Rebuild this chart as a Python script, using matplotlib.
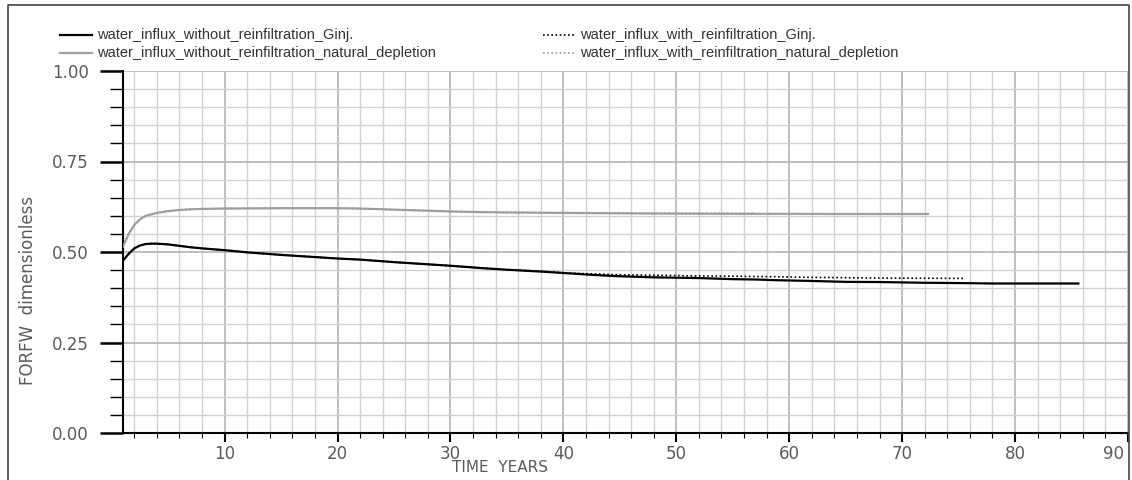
import matplotlib
matplotlib.use("Agg")
import matplotlib.pyplot as plt
from matplotlib.ticker import MultipleLocator, FuncFormatter, FormatStrFormatter
from matplotlib.lines import Line2D

# FORFW vs time, four runs
t_ginj = [1, 1.5, 2, 2.5, 3, 3.5, 4, 5, 6, 7, 8, 10, 12, 15, 18, 20, 22, 25, 28, 30,
          33, 35, 38, 40, 43, 45, 48, 50, 52, 55, 57, 59, 62, 65, 68, 70, 72, 75.6,
          78, 80, 83, 85.6]
forfw_ginj = [0.476, 0.495, 0.510, 0.518, 0.522, 0.523, 0.523, 0.521, 0.517, 0.513,
              0.510, 0.505, 0.499, 0.492, 0.486, 0.482, 0.479, 0.472, 0.466, 0.462,
              0.455, 0.451, 0.446, 0.442, 0.436, 0.433, 0.430, 0.429, 0.428, 0.425,
              0.424, 0.422, 0.420, 0.4175, 0.417, 0.416, 0.415, 0.414, 0.413, 0.413,
              0.413, 0.413]

t_ginj_re = [1, 1.5, 2, 2.5, 3, 3.5, 4, 5, 6, 7, 8, 10, 12, 15, 18, 20, 22, 25, 28, 30,
             33, 35, 38, 40, 43, 45, 48, 50, 52, 55, 58, 62, 65, 68, 72, 75.6]
forfw_ginj_re = [0.476, 0.495, 0.510, 0.518, 0.522, 0.523, 0.523, 0.521, 0.517, 0.513,
                 0.510, 0.505, 0.499, 0.492, 0.486, 0.482, 0.479, 0.472, 0.466, 0.462,
                 0.455, 0.451, 0.447, 0.4425, 0.439, 0.437, 0.436, 0.435, 0.434, 0.433,
                 0.432, 0.430, 0.429, 0.428, 0.4275, 0.427]

t_nat = [1, 1.5, 2, 2.5, 3, 4, 5, 6, 7, 8, 10, 15, 20, 22, 25, 28, 30, 33, 36, 40,
         45, 50, 55, 60, 65, 72.3]
forfw_nat = [0.515, 0.550, 0.575, 0.590, 0.600, 0.608, 0.613, 0.616, 0.618, 0.619,
             0.620, 0.621, 0.621, 0.620, 0.617, 0.614, 0.612, 0.610, 0.609, 0.608,
             0.607, 0.606, 0.6055, 0.6055, 0.605, 0.605]

t_nat_re = [1, 1.5, 2, 2.5, 3, 4, 5, 6, 7, 8, 10, 15, 20, 22, 25, 28, 30, 33, 36, 40,
            42, 45, 50, 55, 57]
forfw_nat_re = [0.515, 0.550, 0.575, 0.590, 0.600, 0.608, 0.613, 0.616, 0.618, 0.619,
                0.620, 0.621, 0.621, 0.620, 0.617, 0.614, 0.612, 0.610, 0.609, 0.608,
                0.6075, 0.607, 0.607, 0.607, 0.607]

labels = ["water_influx_without_reinfiltration_Ginj.",
          "water_influx_without_reinfiltration_natural_depletion",
          "water_influx_with_reinfiltration_Ginj.",
          "water_influx_with_reinfiltration_natural_depletion"]

W, H = 1132, 480
TXT = "#5a5a5a"
fig = plt.figure(figsize=(W / 100, H / 100), dpi=100)
ax = fig.add_axes([123 / W, 1 - 433 / H, (1128 - 123) / W, (433 - 71) / H])

styles = [dict(color="black", lw=1.6, zorder=4),
          dict(color="#a0a0a0", lw=1.6, zorder=3),
          dict(color="black", lw=1.2, ls=(0, (1, 1.5)), zorder=5),
          dict(color="#9a9a9a", lw=1.2, ls=(0, (1, 1.5)), zorder=4)]

ax.plot(t_ginj, forfw_ginj, **styles[0])
ax.plot(t_nat, forfw_nat, **styles[1])
ax.plot(t_ginj_re, forfw_ginj_re, **styles[2])
ax.plot(t_nat_re, forfw_nat_re, **styles[3])

XMAX = 90
ax.set_xlim(1, XMAX)
ax.set_ylim(0, 1)
ax.xaxis.set_major_locator(MultipleLocator(10))
ax.xaxis.set_minor_locator(MultipleLocator(2))
ax.yaxis.set_major_locator(MultipleLocator(0.25))
ax.yaxis.set_minor_locator(MultipleLocator(0.05))
ax.yaxis.set_major_formatter(FormatStrFormatter("%.2f"))
# last x label is drawn separately so it stays inside the frame
ax.xaxis.set_major_formatter(FuncFormatter(lambda v, p: "" if v >= XMAX else "%d" % v))

ax.grid(True, which="major", color="#b4b4b4", lw=1.2)
ax.grid(True, which="minor", color="#d2d2d2", lw=1.0)
ax.set_axisbelow(True)

for s in ["top", "right"]:
    ax.spines[s].set_visible(False)
for s in ["left", "bottom"]:
    ax.spines[s].set_linewidth(1.5)

ax.tick_params(axis="y", which="major", direction="out", length=16.5, width=1.8,
               labelsize=12, labelcolor=TXT, pad=8)
ax.tick_params(axis="y", which="minor", direction="out", length=9.5, width=1.0)
ax.tick_params(axis="x", which="major", direction="out", length=6.5, width=1.5,
               labelsize=12, labelcolor=TXT, pad=2)
ax.tick_params(axis="x", which="minor", direction="out", length=3.5, width=0.8)

ax.annotate("%d" % XMAX, xy=(XMAX, 0), xycoords=("data", "axes fraction"),
            xytext=(-3, -8.5), textcoords="offset points", ha="right", va="top",
            fontsize=12, color=TXT, annotation_clip=False)

fig.text(28 / W, 1 - 290 / H, "FORFW  dimensionless", rotation=90, ha="center",
         va="center", fontsize=12, color=TXT)
fig.text(500 / W, 1 - 467 / H, "TIME  YEARS", ha="center", va="center",
         fontsize=11, color=TXT)

# legend, two columns
rows = [35, 53]
cols = [(60, 92, 97), (543, 575, 580)]
for i, lab in enumerate(labels):
    x0, x1, xt = cols[i // 2]
    y = 1 - rows[i % 2] / H
    fig.lines.append(Line2D([x0 / W, x1 / W], [y, y], transform=fig.transFigure,
                            **{k: v for k, v in styles[i].items() if k != "zorder"}))
    fig.text(xt / W, y, lab, ha="left", va="center", family="Liberation Sans",
             fontsize=10.5, color="#333333")

# outer frame
fx0, fy0, fx1 = 8 / W, 1 - 5 / H, 1129 / W
fig.lines.append(Line2D([fx0, fx0, fx1, fx1], [0, fy0, fy0, 0],
                        transform=fig.transFigure, color="#444444", lw=1.2))

fig.savefig("out.png", dpi=100)
